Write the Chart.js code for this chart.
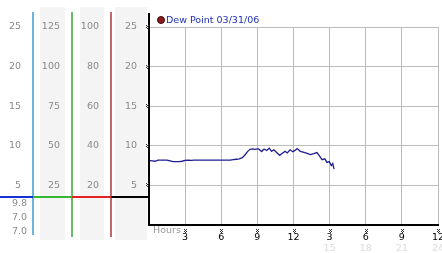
<!DOCTYPE html>
<html lang="en">
<head>
<meta charset="UTF-8">
<title>Dew Point 03/31/06</title>
<script src="https://cdn.jsdelivr.net/npm/chart.js@4"></script>
<style>
  html, body { margin: 0; padding: 0; background: #fff; }
  #wrap { width: 442px; height: 253px; position: relative; }
</style>
</head>
<body>
<div id="wrap"><canvas id="chart" width="442" height="253"></canvas></div>
<script>
// data
const seriesLabel = 'Dew Point 03/31/06';
const hours = [0, 0.25, 0.5, 0.75, 1.0, 1.25, 1.5, 1.75, 2.0, 2.25, 2.5, 2.75, 3.0, 3.25, 3.5, 3.75,
  4.0, 4.5, 5.0, 5.5, 6.0, 6.5, 6.75, 7.0, 7.25, 7.5, 7.75, 8.0, 8.2, 8.4, 8.6, 8.8, 9.0, 9.1,
  9.36, 9.55, 9.77, 9.99, 10.18, 10.37, 10.6, 10.85, 11.1, 11.3, 11.48, 11.72, 11.95, 12.15, 12.3,
  12.57, 12.8, 13.0, 13.2, 13.4, 13.68, 13.95, 14.14, 14.37, 14.6, 14.78, 14.97, 15.14, 15.26, 15.37];
const dewPoint = [8.15, 8.1, 8.05, 8.2, 8.2, 8.2, 8.2, 8.1, 8.0, 8.0, 8.0, 8.05, 8.15, 8.2, 8.15, 8.2,
  8.2, 8.2, 8.2, 8.2, 8.2, 8.2, 8.2, 8.25, 8.3, 8.35, 8.5, 8.9, 9.3, 9.55, 9.6, 9.55, 9.6, 9.6,
  9.28, 9.6, 9.41, 9.7, 9.3, 9.5, 9.16, 8.8, 9.1, 9.3, 9.1, 9.5, 9.25, 9.45, 9.65,
  9.3, 9.2, 9.1, 9.0, 8.9, 9.0, 9.15, 8.75, 8.25, 8.35, 7.9, 8.0, 7.5, 7.75, 7.05];

const xTickLabels = ['', '3', '6', '9', '12', '3', '6', '9', '12'];
const xSubLabels = ['', '', '', '', '', '15', '18', '21', '24'];
const statLabels = ['9.8', '7.0', '7.0'];
const gaugeMax = [25, 125, 100, 25];
const gaugeStep = [5, 25, 20, 5];

const FONT = { family: 'DejaVu Sans', size: 9.5 };
const LABEL_GRAY = '#8a8a8a';

function sideAxis(i, weight, width) {
  return {
    position: 'left',
    weight: weight,
    min: 0,
    max: gaugeMax[i],
    grid: { display: false, drawTicks: false },
    border: { display: false },
    ticks: {
      stepSize: gaugeStep[i],
      padding: 12,
      color: LABEL_GRAY,
      font: FONT,
      callback: v => v === 0 ? '' : v
    },
    afterFit: s => { s.width = width; s.paddingTop = 0; s.paddingBottom = 0; }
  };
}

function tickMark(ctx, x, y) {
  ctx.fillStyle = '#333';
  for (let j = 0; j < 4; j++) {
    for (let i = 0; i < 3; i++) {
      if ((i + j) % 2 === 0) ctx.fillRect(x + i, y + j, 1, 1);
    }
  }
}

const panelPlugin = {
  id: 'panel',
  beforeDraw(chart) {
    const ctx = chart.ctx;
    const s = chart.scales;
    ctx.save();
    ctx.fillStyle = '#f4f4f4';
    ctx.fillRect(s.y2.left + 7, 7, s.y2.width - 14, 233);
    ctx.fillRect(s.y3.left + 8, 7, s.y3.width - 15, 233);
    ctx.fillRect(s.y.left + 4, 7, s.y.width - 6, 233);
    const cols = [[s.y1.right, '#3a9ccc', 235], [s.y2.right, '#36a436', 237], [s.y3.right, '#b03434', 237]];
    ctx.lineWidth = 1.5;
    cols.forEach(([x, c, b]) => {
      ctx.strokeStyle = c;
      ctx.beginPath();
      ctx.moveTo(x, 12);
      ctx.lineTo(x, b);
      ctx.stroke();
    });
    ctx.restore();
  },
  afterDraw(chart) {
    const ctx = chart.ctx;
    const s = chart.scales;
    const area = chart.chartArea;
    ctx.save();
    // left plot axis, drawn taller than the grid
    ctx.strokeStyle = '#000';
    ctx.lineWidth = 2;
    ctx.beginPath();
    ctx.moveTo(area.left, 13);
    ctx.lineTo(area.left, area.bottom + 1);
    ctx.stroke();

    // gauge base line
    const by = Math.round(s.y.getPixelForValue(3.5));
    const segs = [[0, s.y1.right, '#1434d0'], [s.y1.right, s.y2.right, '#34b834'],
      [s.y2.right, s.y3.right, '#e02222'], [s.y3.right, area.left, '#000']];
    segs.forEach(([a, b, c]) => {
      ctx.fillStyle = c;
      ctx.fillRect(a, by - 1, b - a, 2);
    });

    // stats under the base line
    ctx.font = '9.5px "DejaVu Sans"';
    ctx.fillStyle = LABEL_GRAY;
    ctx.textAlign = 'right';
    ctx.textBaseline = 'middle';
    statLabels.forEach((t, i) => ctx.fillText(t, 27, by + 7 + i * 13.7));

    // axis markers
    s.x.ticks.forEach(t => {
      if (t.value > 0) tickMark(ctx, Math.round(s.x.getPixelForValue(t.value)) - 1, 229);
    });
    s.y.ticks.forEach(t => {
      if (t.value > 0) tickMark(ctx, area.left - 3, Math.round(s.y.getPixelForValue(t.value)) - 2);
    });

    // Hours
    ctx.textAlign = 'left';
    ctx.fillStyle = '#999';
    ctx.fillText('Hours', area.left + 4, 230.5);

    // legend
    const ds = chart.data.datasets[0];
    ctx.beginPath();
    ctx.arc(area.left + 12, 20, 3.5, 0, Math.PI * 2);
    ctx.fillStyle = '#8e1c1c';
    ctx.fill();
    ctx.lineWidth = 1;
    ctx.strokeStyle = '#3a0a0a';
    ctx.stroke();
    ctx.fillStyle = '#2030b0';
    ctx.fillText(ds.label, area.left + 17, 20.5);
    ctx.restore();
  }
};

new Chart(document.getElementById('chart'), {
  type: 'line',
  data: {
    datasets: [{
      label: seriesLabel,
      data: hours.map((h, i) => ({ x: h, y: dewPoint[i] })),
      borderColor: '#1e1e90',
      borderWidth: 1.3,
      pointRadius: 0,
      tension: 0,
      fill: false
    }]
  },
  options: {
    responsive: false,
    animation: false,
    devicePixelRatio: 1,
    layout: { padding: { top: 27, right: 4, bottom: 0, left: 0 } },
    plugins: { legend: { display: false }, tooltip: { enabled: false } },
    scales: {
      x: {
        type: 'linear',
        position: 'bottom',
        weight: 0,
        min: 0,
        max: 24,
        grid: { color: '#bcbcbc', lineWidth: 1, drawTicks: false },
        border: { color: '#000', width: 2 },
        ticks: {
          stepSize: 3,
          autoSkip: false,
          maxRotation: 0,
          padding: 7,
          color: '#000',
          font: FONT,
          callback: (v, i) => xTickLabels[i]
        },
        afterFit: s => { s.height = 17; s.paddingLeft = 0; s.paddingRight = 0; }
      },
      x2: {
        type: 'linear',
        position: 'bottom',
        weight: 1,
        min: 0,
        max: 24,
        grid: { display: false, drawTicks: false },
        border: { display: false },
        ticks: {
          stepSize: 3,
          autoSkip: false,
          maxRotation: 0,
          padding: 1,
          color: '#dcdcdc',
          font: FONT,
          callback: (v, i) => xSubLabels[i]
        },
        afterFit: s => { s.height = 11; s.paddingLeft = 0; s.paddingRight = 0; }
      },
      y: Object.assign(sideAxis(3, 0, 38), {
        grid: { color: '#bcbcbc', lineWidth: 1, drawTicks: false },
        border: { display: false }
      }),
      y3: sideAxis(2, 1, 39),
      y2: sideAxis(1, 2, 39),
      y1: sideAxis(0, 3, 33)
    }
  },
  plugins: [panelPlugin]
});
</script>
</body>
</html>
